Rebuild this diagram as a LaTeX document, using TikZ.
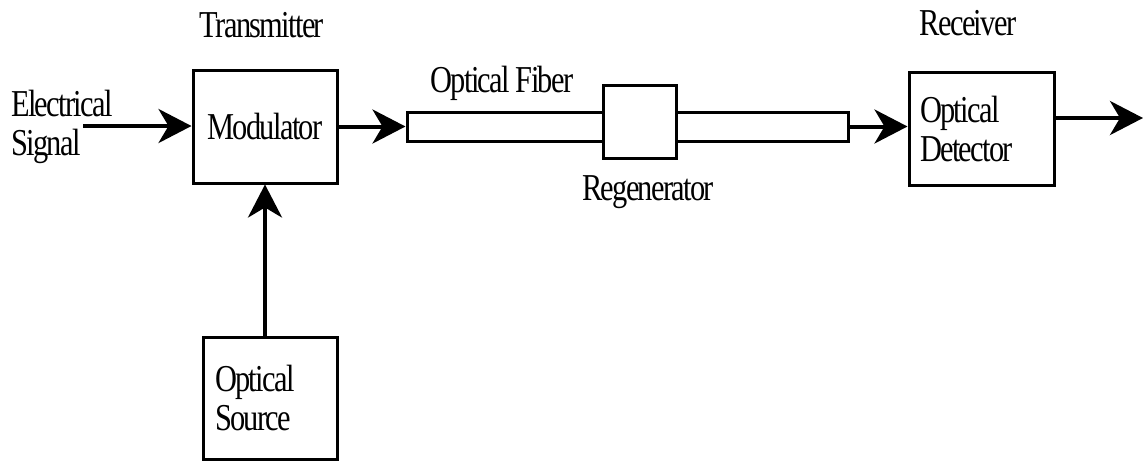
\documentclass[tikz,border=0pt]{standalone}
\usepackage{fontspec}
\setmainfont{Liberation Serif}[FakeStretch=0.8, LetterSpace=-4.4]
\usetikzlibrary{arrows.meta}

\begin{document}
\begin{tikzpicture}[x=1pt, y=-1pt, >={Stealth[length=33pt, width=34pt, inset=10pt]},
  font=\fontsize{38}{39}\selectfont]
  \tikzset{
    block/.style={draw, line width=3pt, inner sep=0pt},
    txtbox/.style={block, align=left, text width=#1},
    lbl/.style={inner sep=0pt, anchor=base},
    sig/.style={->, line width=4pt}
  }
  \useasboundingbox (0,0) rectangle (1143,461);

  % 1. 送信側
  \node[block, minimum width=144pt, minimum height=113pt] (mod) at (265,126.5) {Modulator};
  \node[txtbox=110pt, inner xsep=12pt, minimum height=122pt] (src) at (270,398) {Optical\\Source};
  \node[lbl] (tx) at (262,37) {Transmitter};

  % 2. 光ファイバと再生中継器
  \node[block, minimum width=196pt, minimum height=29pt] (fibA) at (505,126.5) {};
  \node[block, minimum width=73pt, minimum height=73pt] (reg) at (639.5,121.5) {};
  \node[block, minimum width=172pt, minimum height=29pt] (fibB) at (762,126.5) {};
  \node[lbl] (fiblbl) at (502,92) {Optical Fiber};
  \node[lbl] (reglbl) at (648,200) {Regenerator};

  % 3. 受信側
  \node[txtbox=123pt, inner xsep=11pt, minimum height=113pt] (det) at (981.5,128.5) {Optical\\Detector};
  \node[lbl] (rx) at (968,35) {Receiver};

  % 4. 入力信号
  \node[lbl, anchor=base west, align=left] (esig) at (11,155) {Electrical\\Signal};
  \coordinate (esigEnd) at (83,126);
  \coordinate (out) at (1143,118);

  % 5. 矢印
  \draw[sig] (esigEnd) -- (esigEnd -| mod.west);
  \draw[sig] (mod.east) -- (fibA.west);
  \draw[sig] (fibB.east) -- (fibB.east -| det.west);
  \draw[sig] (out -| det.east) -- (out);
  \draw[sig] (mod.south |- src.north) -- (mod.south);

\end{tikzpicture}
\end{document}
